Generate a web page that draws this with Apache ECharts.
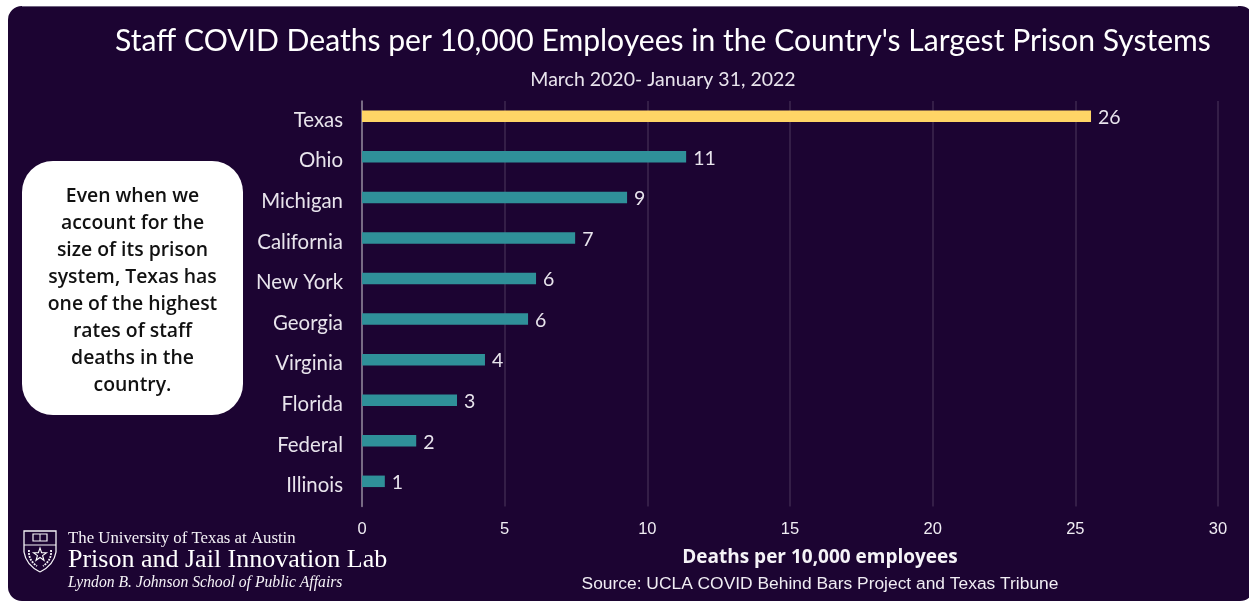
<!DOCTYPE html>
<html>
<head>
<meta charset="utf-8">
<style>html,body{margin:0;padding:0;background:#fff}#c{width:1249px;height:602px}</style>
<script src="https://cdn.jsdelivr.net/npm/echarts@6/dist/echarts.min.js"></script>
</head>
<body>
<div id="c"></div>
<script>
const categories = ['Texas','Ohio','Michigan','California','New York','Georgia','Virginia','Florida','Federal','Illinois'];
const values = [25.55,11.36,9.29,7.47,6.1,5.82,4.31,3.33,1.9,0.8];
const xTicks = [0,5,10,15,20,25,30];
const calloutLines = ['Even when we','account for the','size of its prison','system, Texas has','one of the highest','rates of staff','deaths in the','country.'];
const highlight = 'Texas';

const NAVY = '#1c0432', HEAD = 'Lato, "Open Sans", sans-serif', OPEN = '"Open Sans", Lato, sans-serif', ARIAL = '"Liberation Sans", Arial, sans-serif', SERIF = '"Liberation Serif", serif';
const chart = echarts.init(document.getElementById('c'), null, {renderer:'canvas'});
const txt = (x,y,text,font,fill,align) => ({type:'text',x,y,z:5,style:{text,font,fill,align:align||'left',verticalAlign:'middle'}});
const INK = '#f5f3f7';
const curve = (x1,y1,cpx1,cpy1,x2,y2,w,dash) => ({type:'bezierCurve',z:5,shape:{x1,y1,cpx1,cpy1,x2,y2},style:{fill:'none',stroke:INK,lineWidth:w,lineDash:dash||null}});

chart.setOption({
  animation:false,
  backgroundColor:'#ffffff',
  grid:[
    {left:362,top:101,width:856,height:405.5},
    {left:362,top:96,width:856,height:405.6},
    {left:362,top:100,width:856,height:406}
  ],
  xAxis:[
    {gridIndex:0,type:'value',min:0,max:30,interval:5,
      axisLine:{show:false},axisTick:{show:false},
      axisLabel:{color:'#f0edf3',fontFamily:ARIAL,fontSize:16.5,margin:14,formatter:v=>xTicks.includes(v)?String(v):''},
      splitLine:{show:true,lineStyle:{color:'rgba(255,255,255,0.14)',width:1.5}}},
    {gridIndex:1,type:'value',min:0,max:30,show:false},
    {gridIndex:2,type:'value',min:0,max:30,show:false}
  ],
  yAxis:[
    {gridIndex:0,type:'category',inverse:true,data:categories,
      axisLine:{show:true,lineStyle:{color:'#8f8699',width:1.5}},axisTick:{show:false},axisLabel:{show:false},splitLine:{show:false}},
    {gridIndex:1,type:'category',inverse:true,data:categories,show:false},
    {gridIndex:2,type:'category',inverse:true,data:categories,
      axisLine:{show:false},axisTick:{show:false},splitLine:{show:false},
      axisLabel:{color:'#e8e4ec',fontFamily:HEAD,fontSize:20.4,margin:19}}
  ],
  series:[{
    type:'bar',xAxisIndex:1,yAxisIndex:1,barWidth:11.5,z:3,
    data:values.map((v,i)=>({value:v,itemStyle:{color:categories[i]===highlight?'#ffd566':'#2f9099'}})),
    label:{show:true,position:'right',distance:7,offset:[0,1.5],color:'#e8e4ec',fontFamily:HEAD,fontSize:19.5,formatter:p=>String(Math.round(p.value))}
  }],
  graphic:{elements:[
    {type:'rect',z:-10,shape:{x:8,y:6,width:1246,height:595,r:14},style:{fill:NAVY}},
    {type:'line',z:-9,shape:{x1:22,y1:6.5,x2:1238,y2:6.5},style:{stroke:'#6f6380',lineWidth:1}},
    {type:'rect',z:4,shape:{x:22,y:161,width:221,height:254,r:31},style:{fill:'#ffffff'}},
    txt(663,41,"Staff COVID Deaths per 10,000 Employees in the Country's Largest Prison Systems",'30.1px '+HEAD,'#ffffff','center'),
    txt(663,80,'March 2020- January 31, 2022','19.5px '+HEAD,'#e8e4ec','center'),
    ...calloutLines.map((l,i)=>txt(132.5,196+i*27,l,'600 19.4px '+OPEN,'#111111','center')),
    txt(820,558,'Deaths per 10,000 employees','bold 19px '+OPEN,'#f5f3f7','center'),
    txt(820,584,'Source: UCLA COVID Behind Bars Project and Texas Tribune','17.4px '+ARIAL,'#f0edf3','center'),
    txt(68,539,'The University of Texas at Austin','16.8px '+SERIF,'#f5f3f7'),
    txt(68,560,'Prison and Jail Innovation Lab','26px '+SERIF,'#ffffff'),
    txt(68,583,'Lyndon B. Johnson School of Public Affairs','italic 15.7px '+SERIF,'#f5f3f7'),
    // crest
    {type:'polyline',z:5,shape:{points:[[24,552],[24,531],[56,531],[56,552]]},style:{fill:'none',stroke:INK,lineWidth:1.3}},
    curve(24,552,26,565,40,572,1.3),
    curve(56,552,54,565,40,572,1.3),
    {type:'line',z:5,shape:{x1:24,y1:545,x2:56,y2:545},style:{stroke:INK,lineWidth:1}},
    {type:'rect',z:5,shape:{x:33,y:534,width:14,height:7},style:{fill:'none',stroke:INK,lineWidth:1.2}},
    {type:'line',z:5,shape:{x1:40,y1:534,x2:40,y2:541},style:{stroke:INK,lineWidth:1}},
    {type:'polygon',z:5,shape:{points:[[40,548],[41.6,552.6],[46.5,552.7],[42.6,555.6],[44,560.3],[40,557.5],[36,560.3],[37.4,555.6],[33.5,552.7],[38.4,552.6]]},style:{fill:'none',stroke:'#ffffff',lineWidth:1.1}},
    curve(29,550,28,560,37,566,1.8,[2,1]),
    curve(51,550,52,560,43,566,1.8,[2,1])
  ]}
});
</script>
</body>
</html>
